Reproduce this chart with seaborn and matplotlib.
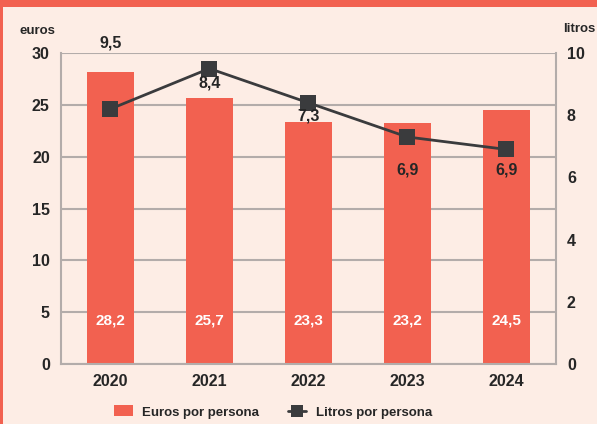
import numpy as np
import pandas as pd
import matplotlib
matplotlib.use("Agg")
import matplotlib.pyplot as plt
import matplotlib.transforms as mtransforms
from matplotlib.patches import Rectangle, Patch
from matplotlib.lines import Line2D
import seaborn as sns

# ---- data ----
years = ["2020", "2021", "2022", "2023", "2024"]
euros = [28.2, 25.7, 23.3, 23.2, 24.5]
litros = [8.2, 9.5, 8.4, 7.3, 6.9]
euro_labels = ["28,2", "25,7", "23,3", "23,2", "24,5"]
litro_labels = ["9,5", "8,4", "7,3", "6,9", "6,9"]
left_ticks = [0, 5, 10, 15, 20, 25, 30]
right_ticks = [0, 2, 4, 6, 8, 10]

# ---- style ----
BG = "#fdede5"
RED = "#f26150"
DARK = "#3a3b3d"
TXT = "#262626"
GRID = "#b3acaa"

sns.set_theme(style="white")
plt.rcParams["font.family"] = ["Liberation Sans", "DejaVu Sans"]
plt.rcParams["font.weight"] = "bold"

fig = plt.figure(figsize=(5.97, 4.24), dpi=100, facecolor=BG)
ax = fig.add_axes([0.102, 0.1415, 0.829, 0.7335])
ax.set_facecolor(BG)

df = pd.DataFrame({"year": years, "euros": euros, "litros": litros})
sns.barplot(data=df, x="year", y="euros", color=RED, saturation=1, width=0.48,
            linewidth=0, edgecolor="none", ax=ax)

ax.set_ylim(0, 30)
ax.set_yticks(left_ticks)
ax.set_yticklabels([str(t) for t in left_ticks])
ax.set_xlim(-0.5, 4.5)
ax.set_xlabel("")
ax.set_ylabel("")
ax.set_axisbelow(True)
ax.yaxis.grid(True, color=GRID, linewidth=1.5)
ax.xaxis.grid(False)
for s in ["left", "right", "bottom"]:
    ax.spines[s].set_color(GRID)
    ax.spines[s].set_linewidth(1.5)
ax.spines["top"].set_visible(False)
ax.tick_params(axis="both", length=0, labelsize=11.5, colors=TXT)
ax.tick_params(axis="y", pad=8)
ax.tick_params(axis="x", pad=7)
for lbl in ax.get_xticklabels() + ax.get_yticklabels():
    lbl.set_fontweight("bold")

# bar value labels (white, fixed height)
trans = mtransforms.blended_transform_factory(ax.transData, ax.transAxes)
for i, t in enumerate(euro_labels):
    ax.text(i, 0.141, t, transform=trans, ha="center", va="center",
            color="white", fontsize=11, fontweight="bold")

ax2 = ax.twinx()
sns.lineplot(x=np.arange(len(years)), y=litros, ax=ax2, color=DARK, linewidth=2,
             marker="s", markersize=11, markeredgewidth=0)
ax2.set_ylim(0, 10)
ax2.set_xlim(-0.5, 4.5)
ax2.set_yticks(right_ticks)
ax2.set_yticklabels([str(t) for t in right_ticks])
ax2.tick_params(axis="y", length=0, labelsize=11.5, colors=TXT, pad=8)
for lbl in ax2.get_yticklabels():
    lbl.set_fontweight("bold")
for s in ax2.spines.values():
    s.set_visible(False)
ax2.grid(False)

# line labels (as printed in the reference)
offsets = [66, -14, -13, -33, -21]
for i, (v, t) in enumerate(zip(litros, litro_labels)):
    ax2.annotate(t, (i, v), xytext=(0, offsets[i]), textcoords="offset pixels",
                 ha="center", va="center", fontsize=11.5, fontweight="bold",
                 color=TXT, annotation_clip=False)

# axis titles
fig.text(20 / 597, 1 - 31 / 424, "euros", ha="left", va="center",
         fontsize=9.5, fontweight="bold", color=TXT)
fig.text(563 / 597, 1 - 29 / 424, "litros", ha="left", va="center",
         fontsize=9.5, fontweight="bold", color=TXT)

# legend
handles = [Patch(facecolor=RED, edgecolor="none"),
           Line2D([0], [0], color=DARK, linewidth=2, marker="s",
                  markersize=9, markeredgewidth=0)]
leg = fig.legend(handles, ["Euros por persona", "Litros por persona"],
                 loc="center", bbox_to_anchor=(273 / 597, 1 - 412 / 424), ncol=2,
                 frameon=False, fontsize=9.5, handlelength=1.4, handleheight=0.9,
                 columnspacing=2.2, handletextpad=0.7)
for t in leg.get_texts():
    t.set_fontweight("bold")
    t.set_color(TXT)

# frame bands
fig.patches.append(Rectangle((0, 1 - 7 / 424), 1, 7 / 424, transform=fig.transFigure,
                             facecolor=RED, edgecolor="none", zorder=10))
fig.patches.append(Rectangle((0, 0), 3 / 597, 1, transform=fig.transFigure,
                             facecolor=RED, edgecolor="none", zorder=10))

fig.savefig("out.png", dpi=100, facecolor=BG)
